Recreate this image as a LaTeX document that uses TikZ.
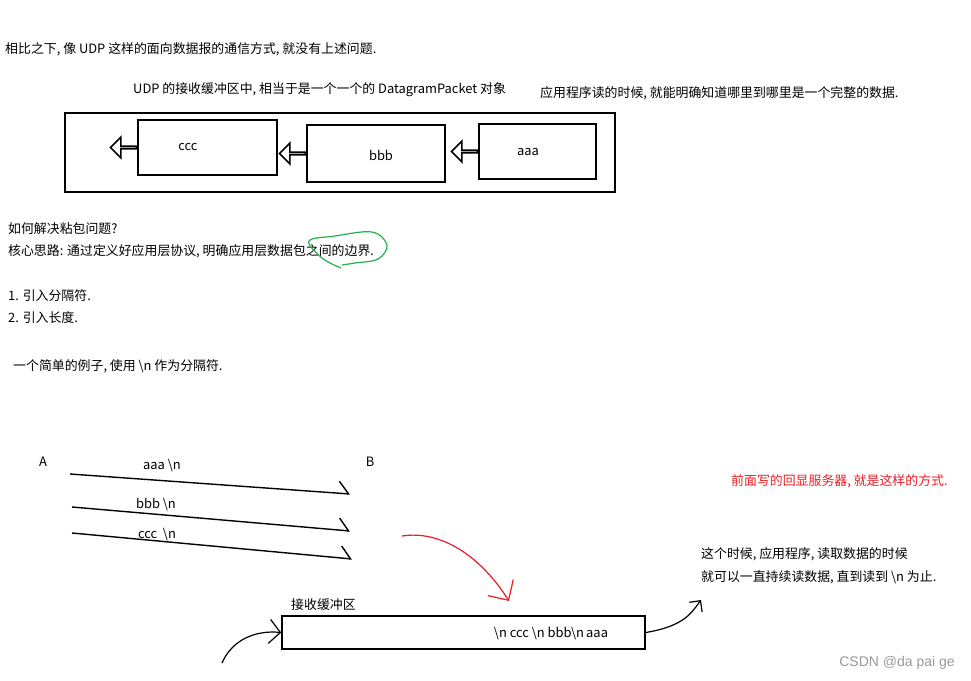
\documentclass[tikz,border=0pt]{standalone}
\usepackage{fontspec}
\setmainfont{Noto Sans CJK SC}
\newfontfamily\wmfont{Liberation Sans}
\usepackage{xcolor}
\usetikzlibrary{positioning,calc,arrows.meta,shapes.arrows}
\definecolor{penred}{RGB}{237,28,36}
\definecolor{pengreen}{RGB}{34,177,76}

\begin{document}
\begin{tikzpicture}[x=1pt, y=-1pt, font=\fontsize{12.9}{15}\selectfont, txt/.style={anchor=west, inner sep=0pt}, lbl/.style={inner sep=0pt}, box/.style={draw, line width=1.6pt, inner sep=0pt}, blk/.style={single arrow, draw, line width=1.6pt, shape border rotate=180, minimum height=26pt, minimum width=21pt, single arrow head extend=6pt, single arrow head indent=0pt, inner sep=0pt, anchor=tail}, send/.style={line width=1.4pt, -{Straight Barb[left, length=10pt, width=24pt]}}, pen/.style={line width=1.2pt}]
\useasboundingbox (0,0) rectangle (971,680);

\node[txt] (intro) at (5,49) {相比之下, 像 UDP 这样的面向数据报的通信方式, 就没有上述问题.};
\node[txt] (bufnote) at (133,90) {UDP 的接收缓冲区中, 相当于是一个一个的 DatagramPacket 对象};
\node[txt] (readnote) at (540,93) {应用程序读的时候, 就能明确知道哪里到哪里是一个完整的数据.};

\node[box, minimum width=550pt, minimum height=79pt] (udpbuf) at (340,152.5) {};
\node[box, minimum width=139pt, minimum height=55pt] (ccc) at (207.5,147.5) {};
\node[box, minimum width=138pt, minimum height=57pt] (bbb) at (376,153.5) {};
\node[box, minimum width=117pt, minimum height=55pt] (aaa) at (537.5,151.5) {};
\node[lbl] at (188,147) {ccc};
\node[lbl] at (381,155) {bbb};
\node[lbl] at (528,152) {aaa};
\node[blk] (outc) at (ccc.west) {};
\node[blk] (outb) at (bbb.west) {};
\node[blk] (outa) at (aaa.west) {};

\node[txt] (q) at (8,229) {如何解决粘包问题?};
\node[txt] (idea) at (8,251) {核心思路: 通过定义好应用层协议, 明确应用层数据包之间的边界.};
\node[txt] (opt1) at (8,296) {1. 引入分隔符.};
\node[txt] (opt2) at (8,318) {2. 引入长度.};
\node[txt] (demo) at (13,366) {一个简单的例子, 使用 \textbackslash n 作为分隔符.};
\draw[pen, pengreen] plot[smooth, tension=0.6] coordinates {(341,268) (322,258) (309,241) (335,236) (372,232) (387,245) (378,259) (355,263) (342,265)};

\node[lbl] (A) at (43,462) {A};
\node[lbl] (B) at (370,462) {B};
\coordinate (s1) at (70,474);
\coordinate (e1) at (350,494);
\coordinate (s2) at (72,507);
\coordinate (e2) at (350,531);
\coordinate (s3) at (72,533);
\coordinate (e3) at (352,559);
\draw[send] (s1) -- (e1);
\draw[send] (s2) -- (e2);
\draw[send] (s3) -- (e3);
\node[lbl] at (162,466) {aaa \textbackslash n};
\node[lbl] at (156,505) {bbb \textbackslash n};
\node[lbl] at (157,535) {ccc~ \textbackslash n};

\node[txt, text=penred] (echo) at (731,481) {前面写的回显服务器, 就是这样的方式.};
\coordinate (rs) at (402,536);
\coordinate (re) at (509,601);
\draw[pen, penred, -{Straight Barb[length=15pt, width=30pt]}] (rs) .. controls (440,530) and (480,555) .. (re);

\node[txt] (bufname) at (291,605) {接收缓冲区};
\node[box, minimum width=363pt, minimum height=33pt] (buf) at (463.5,632.5) {};
\node[lbl] at (551,634) {\textbackslash n ccc \textbackslash n bbb\textbackslash n\,aaa};
\coordinate (in) at (222,663);
\draw[pen, -{Straight Barb[length=11pt, width=24pt]}] (in) .. controls (232,640) and (255,630) .. (buf.west);

\node[txt] (app1) at (701,554) {这个时候, 应用程序, 读取数据的时候};
\node[txt] (app2) at (701,577) {就可以一直持续读数据, 直到读到 \textbackslash n 为止.};
\coordinate (out) at (701,600);
\draw[pen, -{Straight Barb[length=8pt, width=16pt]}] (buf.east) .. controls (685,626) and (692,612) .. (out);

\node[lbl, text=gray!80, font=\wmfont\fontsize{14}{16}\selectfont] (mark) at (897,663) {CSDN @da pai ge};
\end{tikzpicture}
\end{document}
